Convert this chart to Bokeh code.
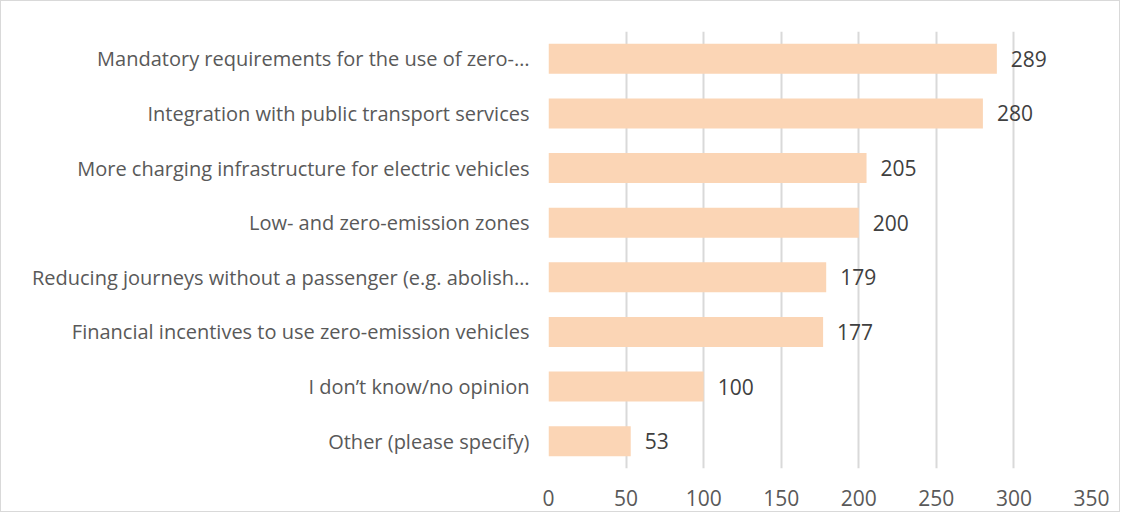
from bokeh.plotting import figure
from bokeh.models import ColumnDataSource, FactorRange, FixedTicker, LabelSet
from bokeh.core.properties import value
from bokeh.embed import file_html
from bokeh.resources import INLINE

categories = [
    "Mandatory requirements for the use of zero-…",
    "Integration with public transport services",
    "More charging infrastructure for electric vehicles",
    "Low- and zero-emission zones",
    "Reducing journeys without a passenger (e.g. abolish…",
    "Financial incentives to use zero-emission vehicles",
    "I don’t know/no opinion",
    "Other (please specify)",
]
values = [289, 280, 205, 200, 179, 177, 100, 53]
x_ticks = [0, 50, 100, 150, 200, 250, 300, 350]

FONT = "Open Sans"
TXT = "#595959"
FS = "21px"
FS_CAT = "20px"

src = ColumnDataSource(dict(cat=categories, val=values, lab=[str(v) for v in values]))

p = figure(
    width=1120, height=512,
    y_range=FactorRange(factors=list(reversed(categories))),
    x_range=(0, 350),
    output_backend="svg", toolbar_location=None,
    min_border_left=547, min_border_right=30, min_border_top=30, min_border_bottom=45,
)
p.styles = {"border": "1px solid #d9d9d9"}
p.outline_line_color = None
p.hbar(y="cat", right="val", left=0, height=0.55, source=src,
       fill_color="#FBD5B5", line_color=None)

labels = LabelSet(x="val", y="cat", text="lab", source=src, x_offset=14,
                  text_baseline="middle", text_align="left",
                  text_font=value(FONT), text_font_size=value(FS), text_color="#404040")
p.add_layout(labels)

p.xaxis.ticker = FixedTicker(ticks=x_ticks)
p.xaxis.axis_line_color = None
p.xaxis.major_tick_line_color = None
p.xaxis.minor_tick_line_color = None
p.xaxis.major_label_standoff = 15
p.xaxis.major_label_text_font = FONT
p.xaxis.major_label_text_font_size = FS
p.xaxis.major_label_text_color = TXT

p.yaxis.axis_line_color = None
p.yaxis.major_tick_line_color = None
p.yaxis.minor_tick_line_color = None
p.yaxis.major_label_standoff = 13
p.yaxis.major_label_text_font = FONT
p.yaxis.major_label_text_font_size = FS_CAT
p.yaxis.major_label_text_color = TXT

p.xgrid.grid_line_color = "#D9D9D9"
p.xgrid.grid_line_width = 2
p.ygrid.grid_line_color = None

open("out.html", "w").write(file_html(p, INLINE))
